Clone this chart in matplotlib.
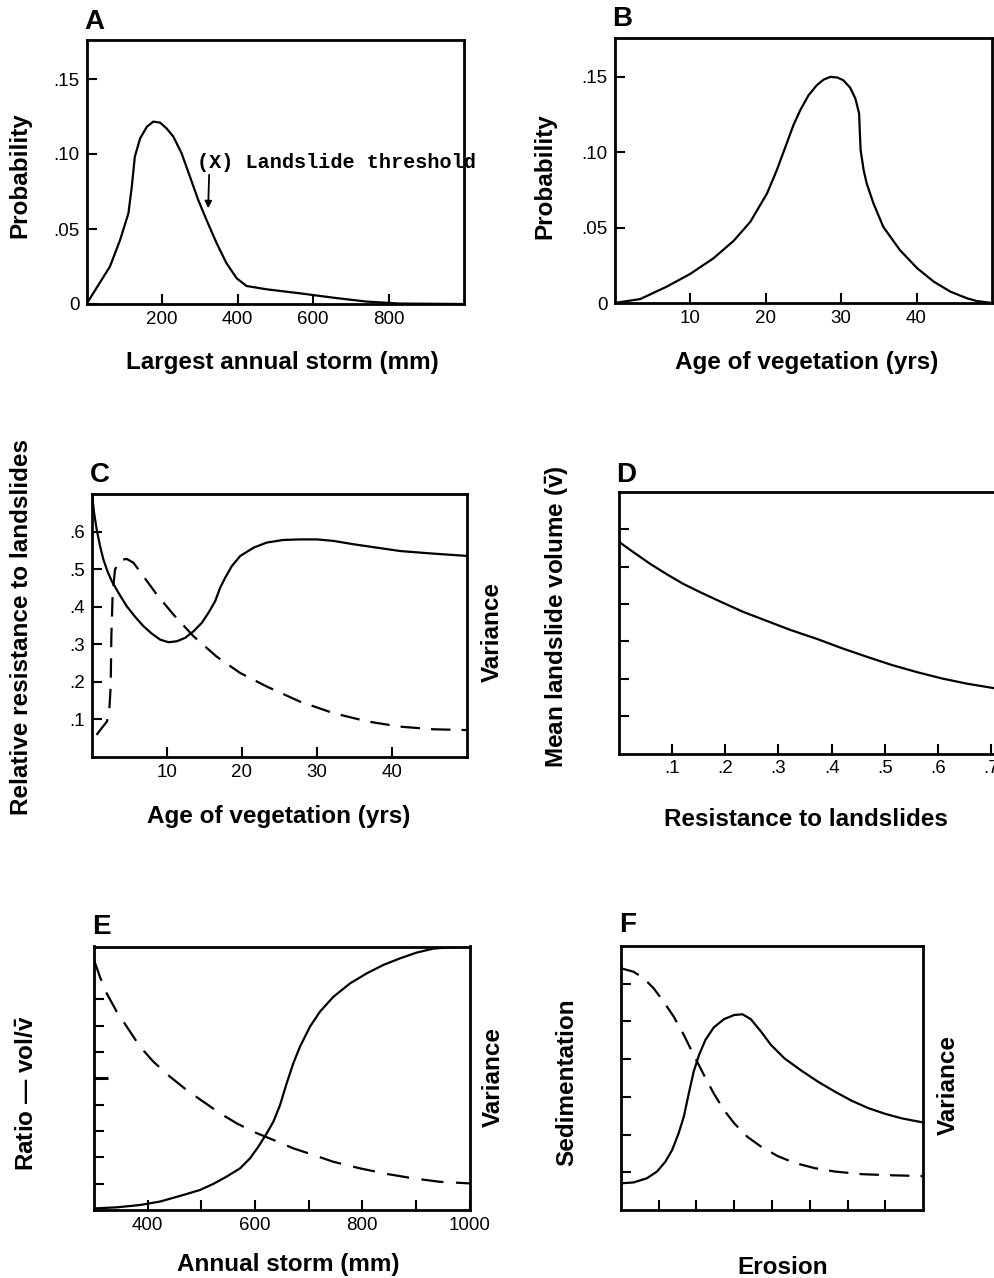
import matplotlib
matplotlib.use('Agg')
import matplotlib.pyplot as plt
from matplotlib.ticker import FixedLocator, NullFormatter

plt.rcParams['font.family'] = ['Liberation Sans', 'DejaVu Sans']
plt.rcParams['lines.scale_dashes'] = False
plt.rcParams['mathtext.fontset'] = 'custom'
plt.rcParams['mathtext.it'] = 'Liberation Sans:bold'
plt.rcParams['mathtext.rm'] = 'Liberation Sans:bold'

# --- A: largest annual storm distribution
a_storm = [0, 62, 89, 111, 120, 128, 142, 160, 177, 195, 212, 230, 252, 274, 296, 318,
           345, 371, 398, 424, 477, 566, 654, 742, 830, 1000]
a_prob = [0, .0249, .0427, .0604, .0782, .0982, .1104, .1182, .1216, .1209, .1171, .1116,
          .1004, .0849, .0693, .056, .0404, .0271, .0171, .012, .0098, .0071, .0042,
          .0016, .0003, 0]

# --- B: age of vegetation distribution
b_age = [0, 3.4, 6.9, 10.0, 13.1, 15.8, 18.0, 20.2, 21.5, 22.8, 23.7, 24.6, 25.7, 26.8,
         27.7, 28.6, 29.5, 30.3, 31.2, 31.9, 32.4, 32.5, 32.6, 33.0, 33.4, 34.3, 35.6,
         37.8, 40.1, 42.3, 44.5, 46.7, 48.0, 50]
b_prob = [0, .0026, .0108, .0192, .0296, .0413, .0539, .0726, .0881, .1057, .1179, .1278,
          .1377, .1444, .1481, .1499, .1495, .1477, .1428, .1356, .1256, .1124, .1013,
          .0881, .0793, .066, .0505, .0351, .023, .0141, .0075, .0031, .0013, 0]

# --- C: resistance (solid) and variance (dashed) vs age
c_age = [0, .27, .62, 1.07, 1.51, 2.05, 2.63, 3.52, 4.63, 5.74, 6.85, 7.97, 9.08, 10.19,
         11.3, 12.42, 13.53, 14.64, 15.53, 16.42, 17.09, 17.76, 18.65, 19.76, 21.54,
         23.3, 25.5, 27.7, 30.0, 32.2, 34.9, 38.0, 41.1, 45.6, 50]
c_resist = [.70, .651, .606, .5615, .526, .4947, .468, .437, .401, .373, .348, .328, .312,
            .305, .3075, .3166, .334, .3567, .3834, .4144, .4502, .477, .508, .5348, .557,
            .5706, .5775, .579, .579, .575, .566, .557, .548, .541, .535]
c_var_age = [.6, 1.29, 2.0, 2.31, 2.49, 2.58, 2.76, 3.07, 3.74, 4.63, 5.52, 6.85, 8.64,
             10.85, 13.53, 16.6, 19.76, 23.3, 27.7, 32.2, 36.7, 41.1, 45.6, 50]
c_var = [.058, .076, .094, .125, .187, .321, .437, .499, .524, .527, .517, .481, .432,
         .379, .321, .267, .223, .187, .147, .116, .094, .080, .073, .071]

# --- D: mean landslide volume vs resistance
d_resist = [0, .0273, .0586, .090, .1212, .1526, .1964, .234, .278, .322, .372, .419,
            .466, .513, .56, .607, .654, .705]
d_volume = [5.67, 5.39, 5.08, 4.80, 4.54, 4.32, 4.03, 3.79, 3.55, 3.31, 3.07, 2.82, 2.59,
            2.37, 2.18, 2.01, 1.87, 1.75]

# --- E: ratio (solid) and variance (dashed) vs annual storm
e_storm = [300, 342, 386, 423, 466.5, 497.6, 522.4, 547.4, 572.2, 590.8, 606.3, 622,
           634.3, 646.8, 659.2, 671.6, 684, 702.7, 721.3, 746.2, 777.3, 808.4, 839.4,
           870.5, 901.6, 932.6, 963.7, 1000]
e_ratio = [.06, .10, .19, .32, .57, .76, .99, 1.27, 1.58, 1.96, 2.40, 2.91, 3.35, 3.98,
           4.81, 5.57, 6.2, 6.96, 7.53, 8.09, 8.6, 8.98, 9.30, 9.55, 9.77, 9.92, 9.97, 10]
e_var_storm = [300, 311, 323.7, 342.3, 361, 385.8, 410.6, 441.7, 472.8, 503.8, 534.9, 566,
               597, 634.3, 671.6, 708.9, 746.2, 795.9, 845.6, 895.3, 945, 1000]
e_var = [9.49, 8.85, 8.22, 7.53, 6.96, 6.2, 5.63, 5.06, 4.55, 4.11, 3.67, 3.29, 2.97, 2.66,
         2.34, 2.09, 1.83, 1.58, 1.37, 1.2, 1.07, 1.01]

# --- F: sedimentation (solid) and variance (dashed) vs erosion
f_erosion = [0, .335, .69, .96, 1.18, 1.36, 1.53, 1.67, 1.80, 1.93, 2.07, 2.24, 2.46, 2.73,
             3.0, 3.22, 3.44, 3.71, 3.97, 4.33, 4.77, 5.22, 5.66, 6.10, 6.55, 6.99, 7.43, 8.0]
f_sed = [.708, .73, .84, 1.02, 1.28, 1.59, 2.03, 2.48, 3.09, 3.67, 4.11, 4.51, 4.84, 5.06,
         5.17, 5.19, 5.06, 4.73, 4.38, 4.02, 3.70, 3.40, 3.14, 2.90, 2.70, 2.55, 2.43, 2.32]
f_var_erosion = [0, .335, .60, .87, 1.13, 1.40, 1.67, 1.93, 2.20, 2.46, 2.73, 3.0, 3.35,
                 3.71, 4.15, 4.59, 5.13, 5.66, 6.37, 7.17, 8.0]
f_var = [6.41, 6.32, 6.15, 5.88, 5.53, 5.13, 4.64, 4.11, 3.58, 3.09, 2.65, 2.30, 1.94, 1.68,
         1.43, 1.25, 1.11, 1.02, .95, .92, .90]

W, H = 994, 1278
fig = plt.figure(figsize=(W / 100, H / 100), dpi=100)

LAB = 17.5
TICK = 13.5
LW = 1.6


def add_axes(left, top, right, bottom):
    ax = fig.add_axes([left / W, 1 - bottom / H, (right - left) / W, (bottom - top) / H])
    for s in ax.spines.values():
        s.set_linewidth(2.0)
    ax.tick_params(direction='in', length=7, width=1.5, labelsize=TICK, pad=5,
                   which='major')
    ax.tick_params(direction='in', length=7, width=1.5, which='minor')
    return ax


def ftext(x, y, s, **kw):
    fig.text(x / W, 1 - y / H, s, **kw)


def panel_letter(x, y, s):
    ftext(x, y, s, fontsize=20, fontweight='bold', ha='left', va='center')


def xlabel(x, y, s):
    ftext(x, y, s, fontsize=LAB, fontweight='bold', ha='center', va='center')


def ylabel(x, y, s):
    ftext(x, y, s, fontsize=LAB, fontweight='bold', ha='center', va='center',
          rotation=90)


def fmt_dec(v):
    return '0' if v == 0 else ('%g' % v).lstrip('0')


def curve(ax, x, y, dashed=None):
    kw = dict(color='black', lw=LW, solid_joinstyle='round', solid_capstyle='round')
    if dashed:
        kw['dashes'] = dashed
    ax.plot(x, y, **kw)


# A
ax = add_axes(86.5, 40, 464, 304)
curve(ax, a_storm, a_prob)
ax.set_xlim(0, 1000)
ax.set_ylim(0, 0.176)
ax.set_xticks([200, 400, 600, 800])
ax.set_yticks([0, .05, .10, .15])
ax.set_yticklabels(['0', '.05', '.10', '.15'])
ax.annotate('', xy=(322, .062), xytext=(325, .088),
            arrowprops=dict(arrowstyle='-|>', color='black', lw=1.3,
                            mutation_scale=10))
ax.text(292, .094, '(X) Landslide threshold', fontsize=14.5, family='Liberation Mono',
        fontweight='bold', ha='left', va='center')
panel_letter(84, 22, 'A')
ylabel(20, 175, 'Probability')
xlabel(282, 362, 'Largest annual storm (mm)')

# B
ax = add_axes(614.5, 37.5, 992, 303)
curve(ax, b_age, b_prob)
ax.set_xlim(0, 50)
ax.set_ylim(0, 0.176)
ax.set_xticks([10, 20, 30, 40])
ax.set_yticks([0, .05, .10, .15])
ax.set_yticklabels(['0', '.05', '.10', '.15'])
panel_letter(612, 19, 'B')
ylabel(545, 176, 'Probability')
xlabel(807, 363, 'Age of vegetation (yrs)')

# C
ax = add_axes(92, 494, 467, 756.7)
curve(ax, c_age, c_resist)
curve(ax, c_var_age, c_var, dashed=(14, 8))
ax.set_xlim(0, 50)
ax.set_ylim(0, 0.70)
ax.set_xticks([10, 20, 30, 40])
yt = [.1, .2, .3, .4, .5, .6]
ax.set_yticks(yt)
ax.set_yticklabels([fmt_dec(v) for v in yt])
panel_letter(90, 475, 'C')
ylabel(22, 627, 'Relative resistance to landslides')
ylabel(492, 632, 'Variance')
xlabel(279, 817, 'Age of vegetation (yrs)')

# D
ax = add_axes(618.8, 492, 1000, 753.5)
curve(ax, d_resist, d_volume)
ax.set_xlim(0, 0.7165)
ax.set_ylim(0, 7)
xt = [.1, .2, .3, .4, .5, .6, .7]
ax.set_xticks(xt)
ax.set_xticklabels([fmt_dec(v) for v in xt])
ax.set_yticks([1, 2, 3, 4, 5, 6])
ax.yaxis.set_major_formatter(NullFormatter())
panel_letter(616, 475, 'D')
ylabel(557, 617, r'Mean landslide volume ($\bar{v}$)')
xlabel(806, 820, 'Resistance to landslides')

# E
ax = add_axes(94, 946.5, 469.5, 1210)
curve(ax, e_storm, e_ratio)
curve(ax, e_var_storm, e_var, dashed=(16, 9))
ax.set_xlim(300, 1000)
ax.set_ylim(0, 10)
ax.set_xticks([400, 600, 800, 1000])
ax.xaxis.set_minor_locator(FixedLocator([500, 700, 900]))
ax.set_yticks([5])
ax.yaxis.set_major_formatter(NullFormatter())
ax.yaxis.set_minor_locator(FixedLocator([1, 2, 3, 4, 6, 7, 8]))
ax.tick_params(axis='y', which='major', length=10, width=2.2)
panel_letter(92, 927, 'E')
ylabel(28, 1093, 'Ratio \u2014 vol/$\\bar{v}$')
ylabel(493, 1077, 'Variance')
xlabel(288, 1265, 'Annual storm (mm)')

# F
ax = add_axes(620.7, 946, 923.3, 1210)
curve(ax, f_erosion, f_sed)
curve(ax, f_var_erosion, f_var, dashed=(14, 8))
ax.set_xlim(0, 8)
ax.set_ylim(0, 7)
ax.set_xticks([1, 2, 3, 4, 5, 6, 7])
ax.set_yticks([1, 2, 3, 4, 5, 6])
ax.xaxis.set_major_formatter(NullFormatter())
ax.yaxis.set_major_formatter(NullFormatter())
panel_letter(619, 925, 'F')
ylabel(567, 1082, 'Sedimentation')
ylabel(948, 1085, 'Variance')
xlabel(783, 1267, 'Erosion')

fig.savefig('out.png', dpi=100)
